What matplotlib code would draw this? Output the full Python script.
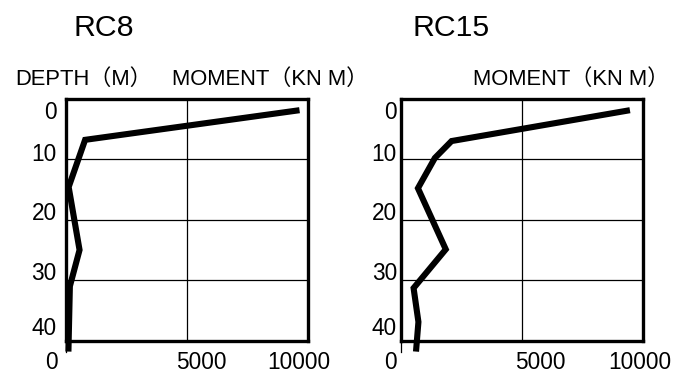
import matplotlib
matplotlib.use("Agg")
import matplotlib.pyplot as plt
from matplotlib.transforms import blended_transform_factory

# Arial-like Latin, full-width parentheses come from the CJK family
plt.rcParams['font.family'] = ['Liberation Sans', 'Noto Sans CJK JP', 'DejaVu Sans']

# values
panel_titles = ["RC8", "RC15"]
depth_rc8 = [1.9, 6.8, 14.6, 25.0, 31.0, 41.8]
moment_rc8 = [9650, 790, 110, 560, 160, 100]
depth_rc15 = [1.9, 7.0, 9.8, 14.8, 24.9, 31.3, 36.9, 41.8]
moment_rc15 = [9460, 2090, 1400, 700, 1850, 520, 720, 620]
depth_ticks = [0, 10, 20, 30, 40]
moment_ticks = [0, 5000, 10000]

# where the labels sit (the source drew them a bit off the grid)
depth_label_pos = [2.2, 9.3, 18.9, 28.9, 38.0]
moment_label_pos = {"RC8": [-600, 5590, 9610], "RC15": [-455, 5745, 9860]}
ylab_pad = {"RC8": -380, "RC15": -170}

W, H = 675, 376
fig = plt.figure(figsize=(W / 100, H / 100), dpi=100)

axes_px = {"RC8": 66, "RC15": 401}
series = {"RC8": (moment_rc8, depth_rc8), "RC15": (moment_rc15, depth_rc15)}
tick_fs = 16.3
cap_fs = 15.8

for name in panel_titles:
    left = axes_px[name]
    ax = fig.add_axes([left / W, 1 - 340.7 / H, 242 / W, 242 / H])
    ax.set_xlim(0, 10000)
    ax.set_ylim(40, 0)
    ax.set_xticks([])
    ax.set_yticks([])
    for s in ax.spines.values():
        s.set_linewidth(2.4)
        s.set_color("black")

    for d in depth_ticks[1:-1]:
        ax.axhline(d, color="black", lw=0.9, zorder=1)
    ax.axvline(moment_ticks[1], color="black", lw=0.9, zorder=1)
    ax.axvline(0, ymin=-0.045, ymax=0, color="black", lw=0.9, clip_on=False)

    x, y = series[name]
    ax.plot(x, y, color="black", lw=4.4, solid_joinstyle="miter",
            solid_capstyle="butt", clip_on=False, zorder=3)

    for v, yp in zip(depth_ticks, depth_label_pos):
        ax.text(ylab_pad[name], yp, str(v), ha="right", va="center",
                fontsize=tick_fs, clip_on=False)

    tr = blended_transform_factory(ax.transData, ax.transAxes)
    for v, xp in zip(moment_ticks, moment_label_pos[name]):
        ax.text(xp, -0.092, str(v), ha="center", va="center",
                fontsize=tick_fs, transform=tr, clip_on=False)

# titles and captions
fig.text(104 / W, 1 - 28 / H, "RC8", ha="center", va="center", fontsize=21.8)
fig.text(451 / W, 1 - 28 / H, "RC15", ha="center", va="center", fontsize=21.8)
fig.text(15 / W, 1 - 79.5 / H, "DEPTH（M）", ha="left", va="center",
         fontsize=cap_fs)
fig.text(172 / W, 1 - 79.5 / H, "MOMENT（KN M）", ha="left", va="center",
         fontsize=cap_fs)
fig.text(473 / W, 1 - 79.5 / H, "MOMENT（KN M）", ha="left", va="center",
         fontsize=cap_fs)

fig.savefig("out.png", dpi=100)
